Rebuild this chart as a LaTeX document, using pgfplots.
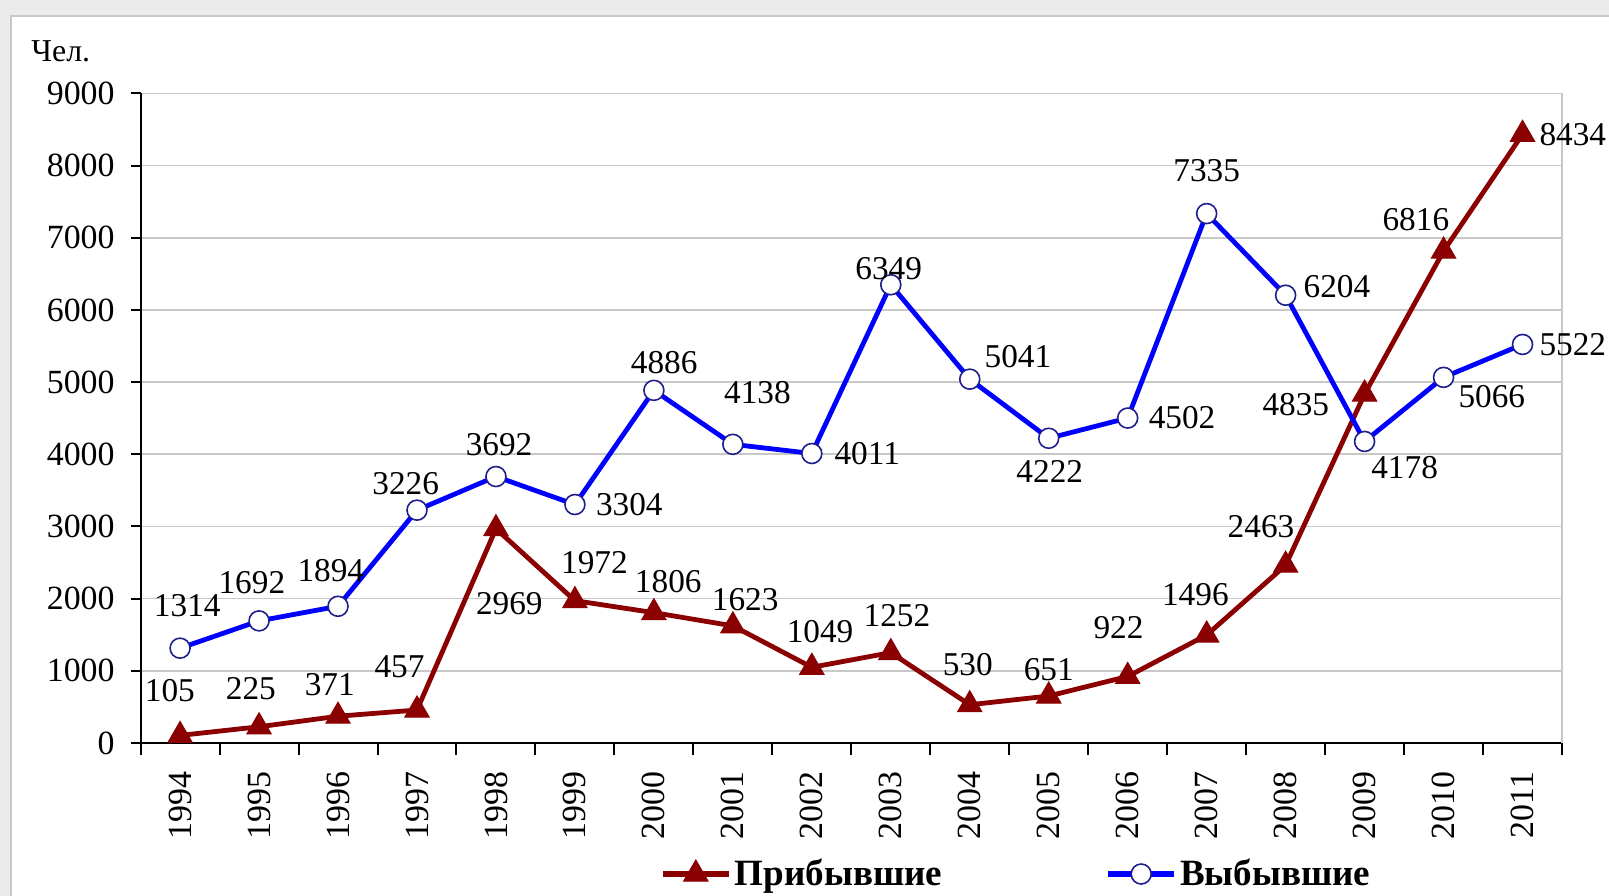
\documentclass[border=0pt]{standalone}
\usepackage{pgfplots}
\pgfplotsset{compat=1.18}
\usepackage{pgfplotstable}
\usepackage{fontspec}
\setmainfont{Liberation Serif}

\definecolor{myred}{RGB}{139,0,0}
\definecolor{myblue}{RGB}{0,0,255}
\definecolor{navyc}{RGB}{30,30,140}
\definecolor{gridgray}{RGB}{200,200,200}
\definecolor{bggray}{RGB}{235,235,235}

\pgfplotstableread{
x y dx dy
0 105 -10 44
1 225 -8 37
2 371 -8 31
3 457 -17 42
4 2969 13 -73
5 1972 19 37
6 1806 14 30
7 1623 12 26
8 1049 8 35
9 1252 6 36
10 530 -2 39
11 651 0 26
12 922 -9 48
13 1496 -11 39
14 2463 -24 38
15 4835 -67 -10
16 6816 -27 31
17 8434 49 0
}\redtab

\pgfplotstableread{
x y dx dy
0 1314 7 41
1 1692 -7 37
2 1894 -7 35
3 3226 -11 26
4 3692 3 31
5 3304 53 0
6 4886 10 27
7 4138 24 50
8 4011 54 0
9 6349 -2 16
10 5041 47 22
11 4222 1 -32
12 4502 53 0
13 7335 0 42
14 6204 50 8
15 4178 39 -25
16 5066 47 -19
17 5522 49 0
}\bluetab

\begin{document}
\begin{tikzpicture}
\path[use as bounding box] (0,0) rectangle (804.5bp,448bp);
\fill[bggray] (0,0) rectangle (804.5bp,448bp);
\filldraw[fill=white, draw=gridgray, line width=0.8bp] (5.5bp,-5bp) rectangle (820bp,440bp);
\node[anchor=west, inner sep=0pt, font=\fontsize{16}{19}\selectfont] at (15.5bp,422.5bp) {Чел.};
\begin{axis}[
  at={(70.3bp,76.5bp)}, anchor=south west,
  scale only axis, width=710.7bp, height=324.8bp,
  xmin=-0.5, xmax=17.5, ymin=0, ymax=9000,
  clip=false,
  axis x line*=bottom, axis y line*=left,
  axis line style={black, line width=1bp, -},
  tick align=outside,
  xtick={0,...,17},
  xticklabels={1994,1995,1996,1997,1998,1999,2000,2001,2002,2003,2004,2005,2006,2007,2008,2009,2010,2011},
  major x tick style={draw=none},
  minor xtick={-0.5,0.5,...,17.5},
  minor x tick style={black, line width=1bp},
  minor tick length=6bp,
  major tick length=5bp,
  ytick={0,1000,...,9000},
  y tick style={black, line width=1bp},
  ymajorgrids,
  grid style={gridgray, line width=0.8bp},
  /pgf/number format/1000 sep={},
  /pgf/number format/assume math mode=true,
  ticklabel style={font=\fontsize{17}{20}\selectfont},
  xticklabel style={rotate=90, anchor=east},
  xticklabel shift=6bp,
  yticklabel shift=4.5bp,
  legend columns=2,
  legend style={at={(axis description cs:0.365,-0.2017)}, anchor=west, draw=none, fill=none,
    inner sep=0pt, nodes={inner sep=1.5bp},
    font=\bfseries\fontsize{18.6}{22}\selectfont,
    /tikz/every even column/.append style={column sep=80bp}},
  legend image code/.code={\draw[mark repeat=2,mark phase=2,#1, line width=3bp] plot coordinates {(0bp,0bp) (16.5bp,0bp) (33bp,0bp)};},
]
\draw[gridgray, line width=0.8bp] (axis cs:17.5,0) -- (axis cs:17.5,9000);
\addplot[myred, line width=2.4bp, mark=triangle*, mark size=7bp,
  mark options={solid, fill=myred, line width=0.5bp},
  nodes near coords, point meta=explicit symbolic,
  visualization depends on={\thisrow{dx}\as\dx},
  visualization depends on={\thisrow{dy}\as\dy},
  every node near coord/.append style={anchor=center, inner sep=0pt, text=black,
    font=\fontsize{16.7}{20}\selectfont, xshift=\dx*0.513bp, yshift=\dy*0.513bp}]
  table[x=x, y=y, meta=y]{\redtab};
\addlegendentry{Прибывшие}
\addplot[myblue, line width=2.4bp, mark=*, mark size=5bp,
  mark options={solid, fill=white, draw=navyc, line width=0.8bp},
  nodes near coords, point meta=explicit symbolic,
  visualization depends on={\thisrow{dx}\as\dx},
  visualization depends on={\thisrow{dy}\as\dy},
  every node near coord/.append style={anchor=center, inner sep=0pt, text=black,
    font=\fontsize{16.7}{20}\selectfont, xshift=\dx*0.513bp, yshift=\dy*0.513bp}]
  table[x=x, y=y, meta=y]{\bluetab};
\addlegendentry{Выбывшие}
\end{axis}
\end{tikzpicture}
\end{document}
